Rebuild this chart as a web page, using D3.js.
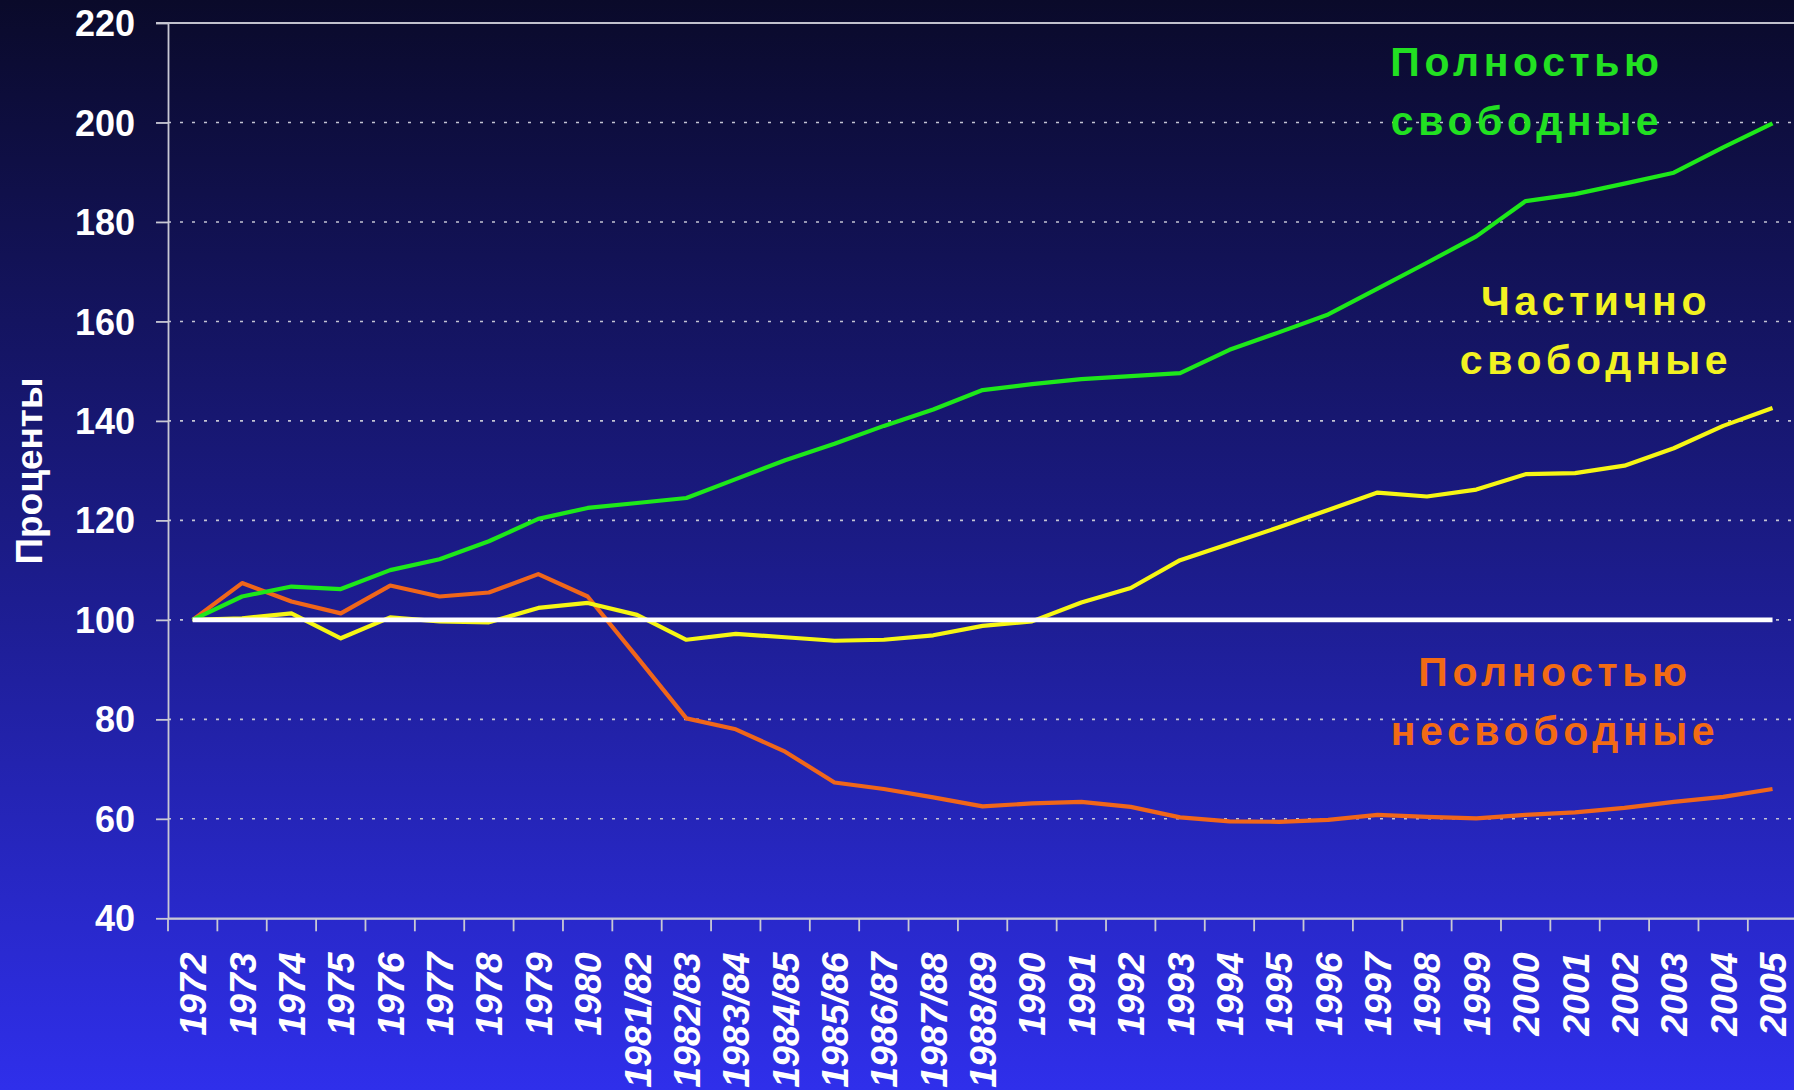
<!DOCTYPE html>
<html><head><meta charset="utf-8">
<script src="https://cdn.jsdelivr.net/npm/d3@7/dist/d3.min.js"></script>
<style>html,body{margin:0;padding:0;overflow:hidden;background:#1a1a80}</style>
</head><body>
<svg id="chart" width="1794" height="1090"></svg>
<script>
const categories = ["1972","1973","1974","1975","1976","1977","1978","1979","1980",
  "1981/82","1982/83","1983/84","1984/85","1985/86","1986/87","1987/88","1988/89",
  "1990","1991","1992","1993","1994","1995","1996","1997","1998","1999","2000",
  "2001","2002","2003","2004","2005"];
const fullyFree = [100,104.7,106.7,106.2,110,112.2,115.8,120.3,122.5,
  123.5,124.5,128.3,132.1,135.4,139.0,142.3,146.2,
  147.4,148.4,149.0,149.6,154.3,157.8,161.4,166.6,171.8,177.1,184.2,185.6,187.7,189.9,195.0,199.8];
const partlyFree = [100,100.3,101.3,96.3,100.5,99.7,99.5,102.4,103.4,
  101.0,96.0,97.2,96.5,95.8,96.0,96.9,98.8,
  99.7,103.5,106.4,112.0,115.3,118.6,122.1,125.6,124.8,126.2,129.3,129.5,131.0,134.5,139.0,142.6];
const notFree = [100,107.4,103.7,101.3,106.9,104.7,105.5,109.2,104.7,
  92.5,80.2,78.0,73.5,67.3,66.0,64.3,62.5,
  63.1,63.4,62.4,60.3,59.5,59.4,59.8,60.8,60.4,60.1,60.8,61.3,62.2,63.4,64.4,66.0];
const reference = [100,100,100,100,100,100,100,100,100,100,100,100,100,100,100,100,100,
  100,100,100,100,100,100,100,100,100,100,100,100,100,100,100,100];
const yTicks = [40,60,80,100,120,140,160,180,200,220];
const gridTicks = [60,80,100,120,140,160,180,200];
const yTitle = "Проценты";
const labelFree = ["Полностью","свободные"];
const labelPartly = ["Частично","свободные"];
const labelNotFree = ["Полностью","несвободные"];

(function(){
const svg = d3.select("#chart");
const W = 1794, H = 1090;
const pLeft = 168, bandW = 49.37;
const pRight = pLeft + bandW * categories.length;
const pTop = 23, pBottom = 918.3;
const font = "'Liberation Sans', Arial, sans-serif";

const defs = svg.append("defs");
const grad = defs.append("linearGradient").attr("id","bg").attr("x1",0).attr("y1",0).attr("x2",0).attr("y2",1);
grad.append("stop").attr("offset","0").attr("stop-color","#0a0a2a");
grad.append("stop").attr("offset","0.5").attr("stop-color","#1b1b86");
grad.append("stop").attr("offset","1").attr("stop-color","#2f2feb");
svg.append("rect").attr("width",W).attr("height",H).attr("fill","url(#bg)");

const x = d3.scaleBand().domain(categories).range([pLeft, pRight]).padding(0);
const y = d3.scaleLinear().domain([40,220]).range([pBottom, pTop]);
const cx = c => x(c) + x.bandwidth()/2;

// gridlines
svg.append("g").selectAll("line").data(gridTicks).join("line")
  .attr("x1", pLeft).attr("x2", pRight)
  .attr("y1", d => y(d)).attr("y2", d => y(d))
  .attr("stroke","#c4c4d4").attr("stroke-width",1.6)
  .attr("stroke-dasharray","3,9");
// top border
svg.append("line").attr("x1", pLeft-12).attr("x2", pRight).attr("y1", y(220)).attr("y2", y(220))
  .attr("stroke","#c0c0cc").attr("stroke-width",1.8);

// y axis
const yAxis = svg.append("g").attr("transform",`translate(${pLeft},0)`)
  .call(d3.axisLeft(y).tickValues(yTicks).tickSize(12).tickSizeOuter(0).tickPadding(21));
yAxis.select(".domain").attr("stroke","#c8c8d4").attr("stroke-width",1.8);
yAxis.selectAll(".tick line").attr("stroke","#c8c8d4").attr("stroke-width",1.8);
yAxis.selectAll(".tick text").attr("fill","#ffffff").attr("font-family",font)
  .attr("font-weight","bold").attr("font-size",36).attr("dy","0.35em");

// x axis
const xAxis = svg.append("g").attr("transform",`translate(0,${pBottom})`)
  .call(d3.axisBottom(x).tickSize(0).tickSizeOuter(0));
xAxis.select(".domain").attr("stroke","#c8c8d4").attr("stroke-width",1.8);
xAxis.selectAll(".tick text")
  .attr("transform","rotate(-90)")
  .attr("x",-34).attr("y",0).attr("dy","0.36em")
  .attr("text-anchor","end")
  .attr("fill","#ffffff").attr("font-family",font)
  .attr("font-weight","bold").attr("font-style","italic").attr("font-size",37.5);
svg.append("line").attr("x1",pLeft).attr("x2",pRight).attr("y1",pBottom).attr("y2",pBottom)
  .attr("stroke","#c8c8d4").attr("stroke-width",1.8);
svg.append("g").selectAll("line").data(categories).join("line")
  .attr("x1", d => x(d)).attr("x2", d => x(d))
  .attr("y1", pBottom).attr("y2", pBottom + 13)
  .attr("stroke","#c8c8d4").attr("stroke-width",1.8);

// y title
svg.append("text").attr("transform",`translate(42,471) rotate(-90)`)
  .attr("text-anchor","middle").attr("fill","#ffffff").attr("font-family",font)
  .attr("font-weight","bold").attr("font-size",37).text(yTitle);

// lines
const line = d3.line().x((d,i) => cx(categories[i])).y(d => y(d));
const series = [
  {v: notFree, c: "#f0661a", w: 4.2},
  {v: partlyFree, c: "#f6f614", w: 4.2},
  {v: fullyFree, c: "#1ee81a", w: 4.2},
  {v: reference, c: "#ffffff", w: 4.6}
];
svg.append("g").selectAll("path").data(series).join("path")
  .attr("d", d => line(d.v)).attr("fill","none")
  .attr("stroke", d => d.c).attr("stroke-width", d => d.w)
  .attr("stroke-linejoin","round");

// annotations
function annot(lines, color, xc, y0){
  const t = svg.append("text").attr("fill",color).attr("font-family",font)
    .attr("font-weight","bold").attr("font-size",41).attr("text-anchor","middle")
    .attr("letter-spacing","4.6px");
  lines.forEach((s,i) => t.append("tspan").attr("x",xc).attr("y",y0 + i*59).text(s));
}
annot(labelFree, "#22e022", 1527, 76);
annot(labelPartly, "#f2f222", 1596, 315);
annot(labelNotFree, "#f26a14", 1555, 686);
})();
</script>
</body></html>
